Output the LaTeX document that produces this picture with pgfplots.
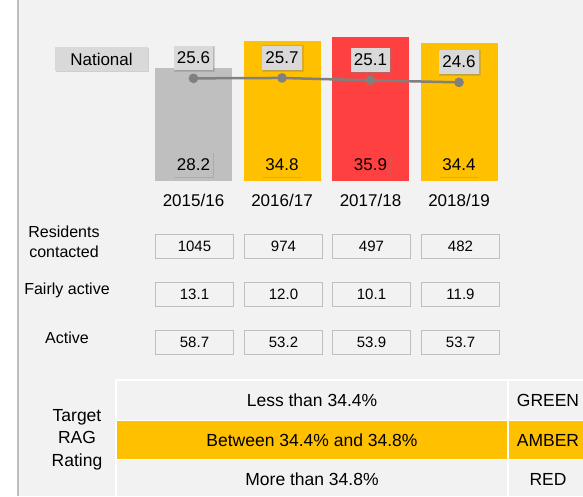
\documentclass[border=0pt]{standalone}
\usepackage{fontspec}
\setmainfont{Liberation Sans}
\usepackage{pgfplots}
\pgfplotsset{compat=1.18}
\usetikzlibrary{shadows}
\definecolor{bg}{HTML}{F2F2F2}
\definecolor{bargray}{HTML}{BFBFBF}
\definecolor{amber}{HTML}{FFC000}
\definecolor{ragred}{HTML}{FF4040}
\definecolor{natline}{HTML}{808080}
\definecolor{lblgray}{HTML}{D9D9D9}
\newcommand\fbig{\fontsize{17}{20}\selectfont}
\newcommand\fval{\fontsize{15}{18}\selectfont}
\newcommand\flab{\fontsize{16}{20}\selectfont}
\newcommand\frag{\fontsize{17.5}{22.5}\selectfont}
\begin{document}
\begin{tikzpicture}[x=1pt,y=-1pt,
  shad/.style={drop shadow={opacity=0.3,shadow xshift=0.8pt,shadow yshift=-0.8pt}},
  vlbl/.style={font=\fbig,text=black,inner xsep=3pt,inner ysep=0pt,minimum height=25pt,shad},
  cell/.style={draw=bargray,fill=bg,minimum width=78pt,minimum height=24pt,inner sep=0pt,font=\fval}]
\useasboundingbox (0,0) rectangle (583,496);
\fill[white] (0,0) rectangle (17,496);
\fill[bg] (17,0) rectangle (583,496);
\draw[bargray,line width=2pt] (17.5,0) -- (17.5,496);

% national label
\node[vlbl,fill=lblgray,minimum width=93pt,minimum height=24pt] at (101.5,59) {National};

\begin{axis}[at={(149.25pt,-181pt)},anchor=south west,scale only axis,
  width=354pt,height=160.4pt,xmin=-0.5,xmax=3.5,ymin=0,ymax=40,clip=false,
  axis line style={draw=none},ytick=\empty,xtick={0,1,2,3},
  xticklabels={2015/16,2016/17,2017/18,2018/19},major tick length=0pt,
  xticklabel style={font=\fbig,text=black,anchor=center,yshift=-19pt}]
\addplot[ybar,bar width=77pt,bar shift=0pt,fill=bargray,draw=none] coordinates {(0,28.2)};
\addplot[ybar,bar width=77pt,bar shift=0pt,fill=amber,draw=none] coordinates {(1,34.8)};
\addplot[ybar,bar width=77pt,bar shift=0pt,fill=ragred,draw=none] coordinates {(2,35.9)};
\addplot[ybar,bar width=77pt,bar shift=0pt,fill=amber,draw=none] coordinates {(3,34.4)};
% national average
\addplot[sharp plot,natline,line width=2.5pt,mark=*,mark size=3.5pt,
  point meta=explicit symbolic,nodes near coords={\pgfplotspointmeta},
  every node near coord/.style={anchor=south,yshift=7pt,fill=lblgray,text=black,
    font=\fbig,inner xsep=3pt,inner ysep=0pt,minimum height=24pt,shad}]
  coordinates {(0,25.6) [25.6] (1,25.7) [25.7] (2,25.1) [25.1] (3,24.6) [24.6]};
\node[vlbl,fill=bargray] at (axis cs:0,4.1) {28.2};
\node[vlbl,fill=amber] at (axis cs:1,4.1) {34.8};
\node[vlbl,fill=ragred] at (axis cs:2,4.1) {35.9};
\node[vlbl,fill=amber] at (axis cs:3,4.1) {34.4};
\end{axis}

% survey table
\node[font=\flab,align=center] at (64,242) {Residents\\contacted};
\node[font=\flab] at (67,290) {Fairly active};
\node[font=\flab] at (67,338) {Active};
\foreach \x/\a/\b/\c in {194.5/1045/13.1/58.7,283.5/974/12.0/53.2,371.5/497/10.1/53.9,460.5/482/11.9/53.7}{
  \node[cell] at (\x,246) {\a};
  \node[cell] at (\x,294) {\b};
  \node[cell] at (\x,342) {\c};
}

% RAG rating table
\fill[amber] (116,420.5) rectangle (583,459.5);
\draw[white,line width=1.5pt] (116,496) -- (116,380) -- (583,380);
\draw[white,line width=1.5pt] (116,420.5) -- (583,420.5) (116,459.5) -- (583,459.5) (508,380) -- (508,496);
\node[font=\frag,align=center] at (77,439.5) {Target\\RAG\\Rating};
\node[font=\frag] at (312,400) {Less than 34.4\%};
\node[font=\frag] at (312,440) {Between 34.4\% and 34.8\%};
\node[font=\frag] at (312,479) {More than 34.8\%};
\node[font=\frag] at (548,400) {GREEN};
\node[font=\frag] at (548,440) {AMBER};
\node[font=\frag] at (548,479) {RED};
\end{tikzpicture}
\end{document}
